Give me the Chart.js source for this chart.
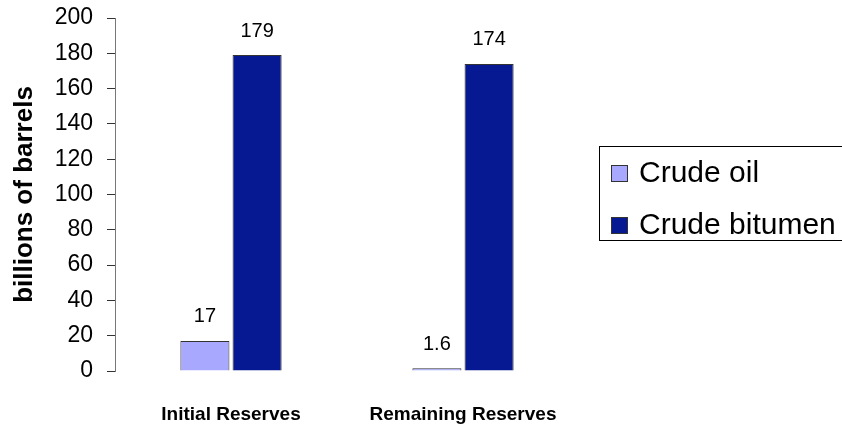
<!DOCTYPE html>
<html>
<head>
<meta charset="utf-8">
<script src="https://cdn.jsdelivr.net/npm/chart.js@4/dist/chart.umd.min.js"></script>
<style>
  html, body { margin: 0; padding: 0; background: #fff; }
  #chart { display: block; }
</style>
</head>
<body>
<canvas id="chart" width="842" height="431"></canvas>
<script>
var categories = ['Initial Reserves', 'Remaining Reserves'];
var crudeOil = [17, 1.6];
var crudeBitumen = [179, 174];
var seriesNames = ['Crude oil', 'Crude bitumen'];
var yMin = 0, yMax = 200, yStep = 20;

var FONT = "'Liberation Sans', Arial, sans-serif";
var colors = ['#A8A8FF', '#061892'];

// value labels above every bar
var valueLabels = {
    id: 'valueLabels',
    afterDatasetsDraw: function (chart) {
        var ctx = chart.ctx;
        ctx.save();
        ctx.font = '20px ' + FONT;
        ctx.fillStyle = '#000';
        ctx.textAlign = 'center';
        ctx.textBaseline = 'alphabetic';
        chart.data.datasets.forEach(function (ds, i) {
            chart.getDatasetMeta(i).data.forEach(function (bar, n) {
                ctx.fillText(String(ds.data[n]), bar.x, bar.y - 18.5);
            });
        });
        ctx.restore();
    }
};

// boxed legend on the right, running off the canvas edge like the original
var boxedLegend = {
    id: 'boxedLegend',
    afterDraw: function (chart) {
        var ctx = chart.ctx;
        ctx.save();
        ctx.strokeStyle = '#000';
        ctx.lineWidth = 1;
        ctx.strokeRect(599.5, 146.5, 300, 94);
        ctx.font = '30px ' + FONT;
        ctx.textBaseline = 'alphabetic';
        var baselines = [182, 234];
        chart.data.datasets.forEach(function (ds, i) {
            var y = baselines[i];
            ctx.fillStyle = ds.backgroundColor;
            ctx.fillRect(611, y - 17, 17, 17);
            ctx.strokeStyle = '#333';
            ctx.strokeRect(611.5, y - 16.5, 16, 16);
            ctx.fillStyle = '#000';
            ctx.fillText(ds.label, 639, y);
        });
        ctx.restore();
    }
};

new Chart(document.getElementById('chart'), {
    type: 'bar',
    data: {
        labels: categories,
        datasets: [
            { label: seriesNames[0], data: crudeOil, backgroundColor: colors[0], borderColor: '#333', borderWidth: 1 },
            { label: seriesNames[1], data: crudeBitumen, backgroundColor: colors[1], borderColor: '#333', borderWidth: 1 }
        ]
    },
    options: {
        responsive: false,
        animation: false,
        categoryPercentage: 0.45,
        barPercentage: 0.94,
        layout: { padding: { top: 18, right: 263, left: 0, bottom: 0 } },
        plugins: {
            legend: { display: false },
            tooltip: { enabled: false }
        },
        scales: {
            x: {
                grid: { display: false, drawTicks: false },
                border: { display: false },
                ticks: { color: '#000', font: { family: FONT, size: 19, weight: 'bold' }, padding: 32, maxRotation: 0 },
                afterFit: function (scale) { scale.height = 60; }
            },
            y: {
                min: yMin,
                max: yMax,
                grid: { drawOnChartArea: false, drawTicks: true, tickLength: 8, tickColor: '#333' },
                border: { display: true, color: '#777', width: 1 },
                ticks: { stepSize: yStep, color: '#000', font: { family: FONT, size: 23 }, padding: 14 },
                title: {
                    display: true,
                    text: 'billions of barrels',
                    color: '#000',
                    font: { family: FONT, size: 26, weight: 'bold' },
                    padding: { top: 9, bottom: 0 }
                },
                afterFit: function (scale) {
                    scale.width = 115;
                    scale.paddingTop = 0;
                }
            }
        }
    },
    plugins: [valueLabels, boxedLegend]
});
</script>
</body>
</html>
